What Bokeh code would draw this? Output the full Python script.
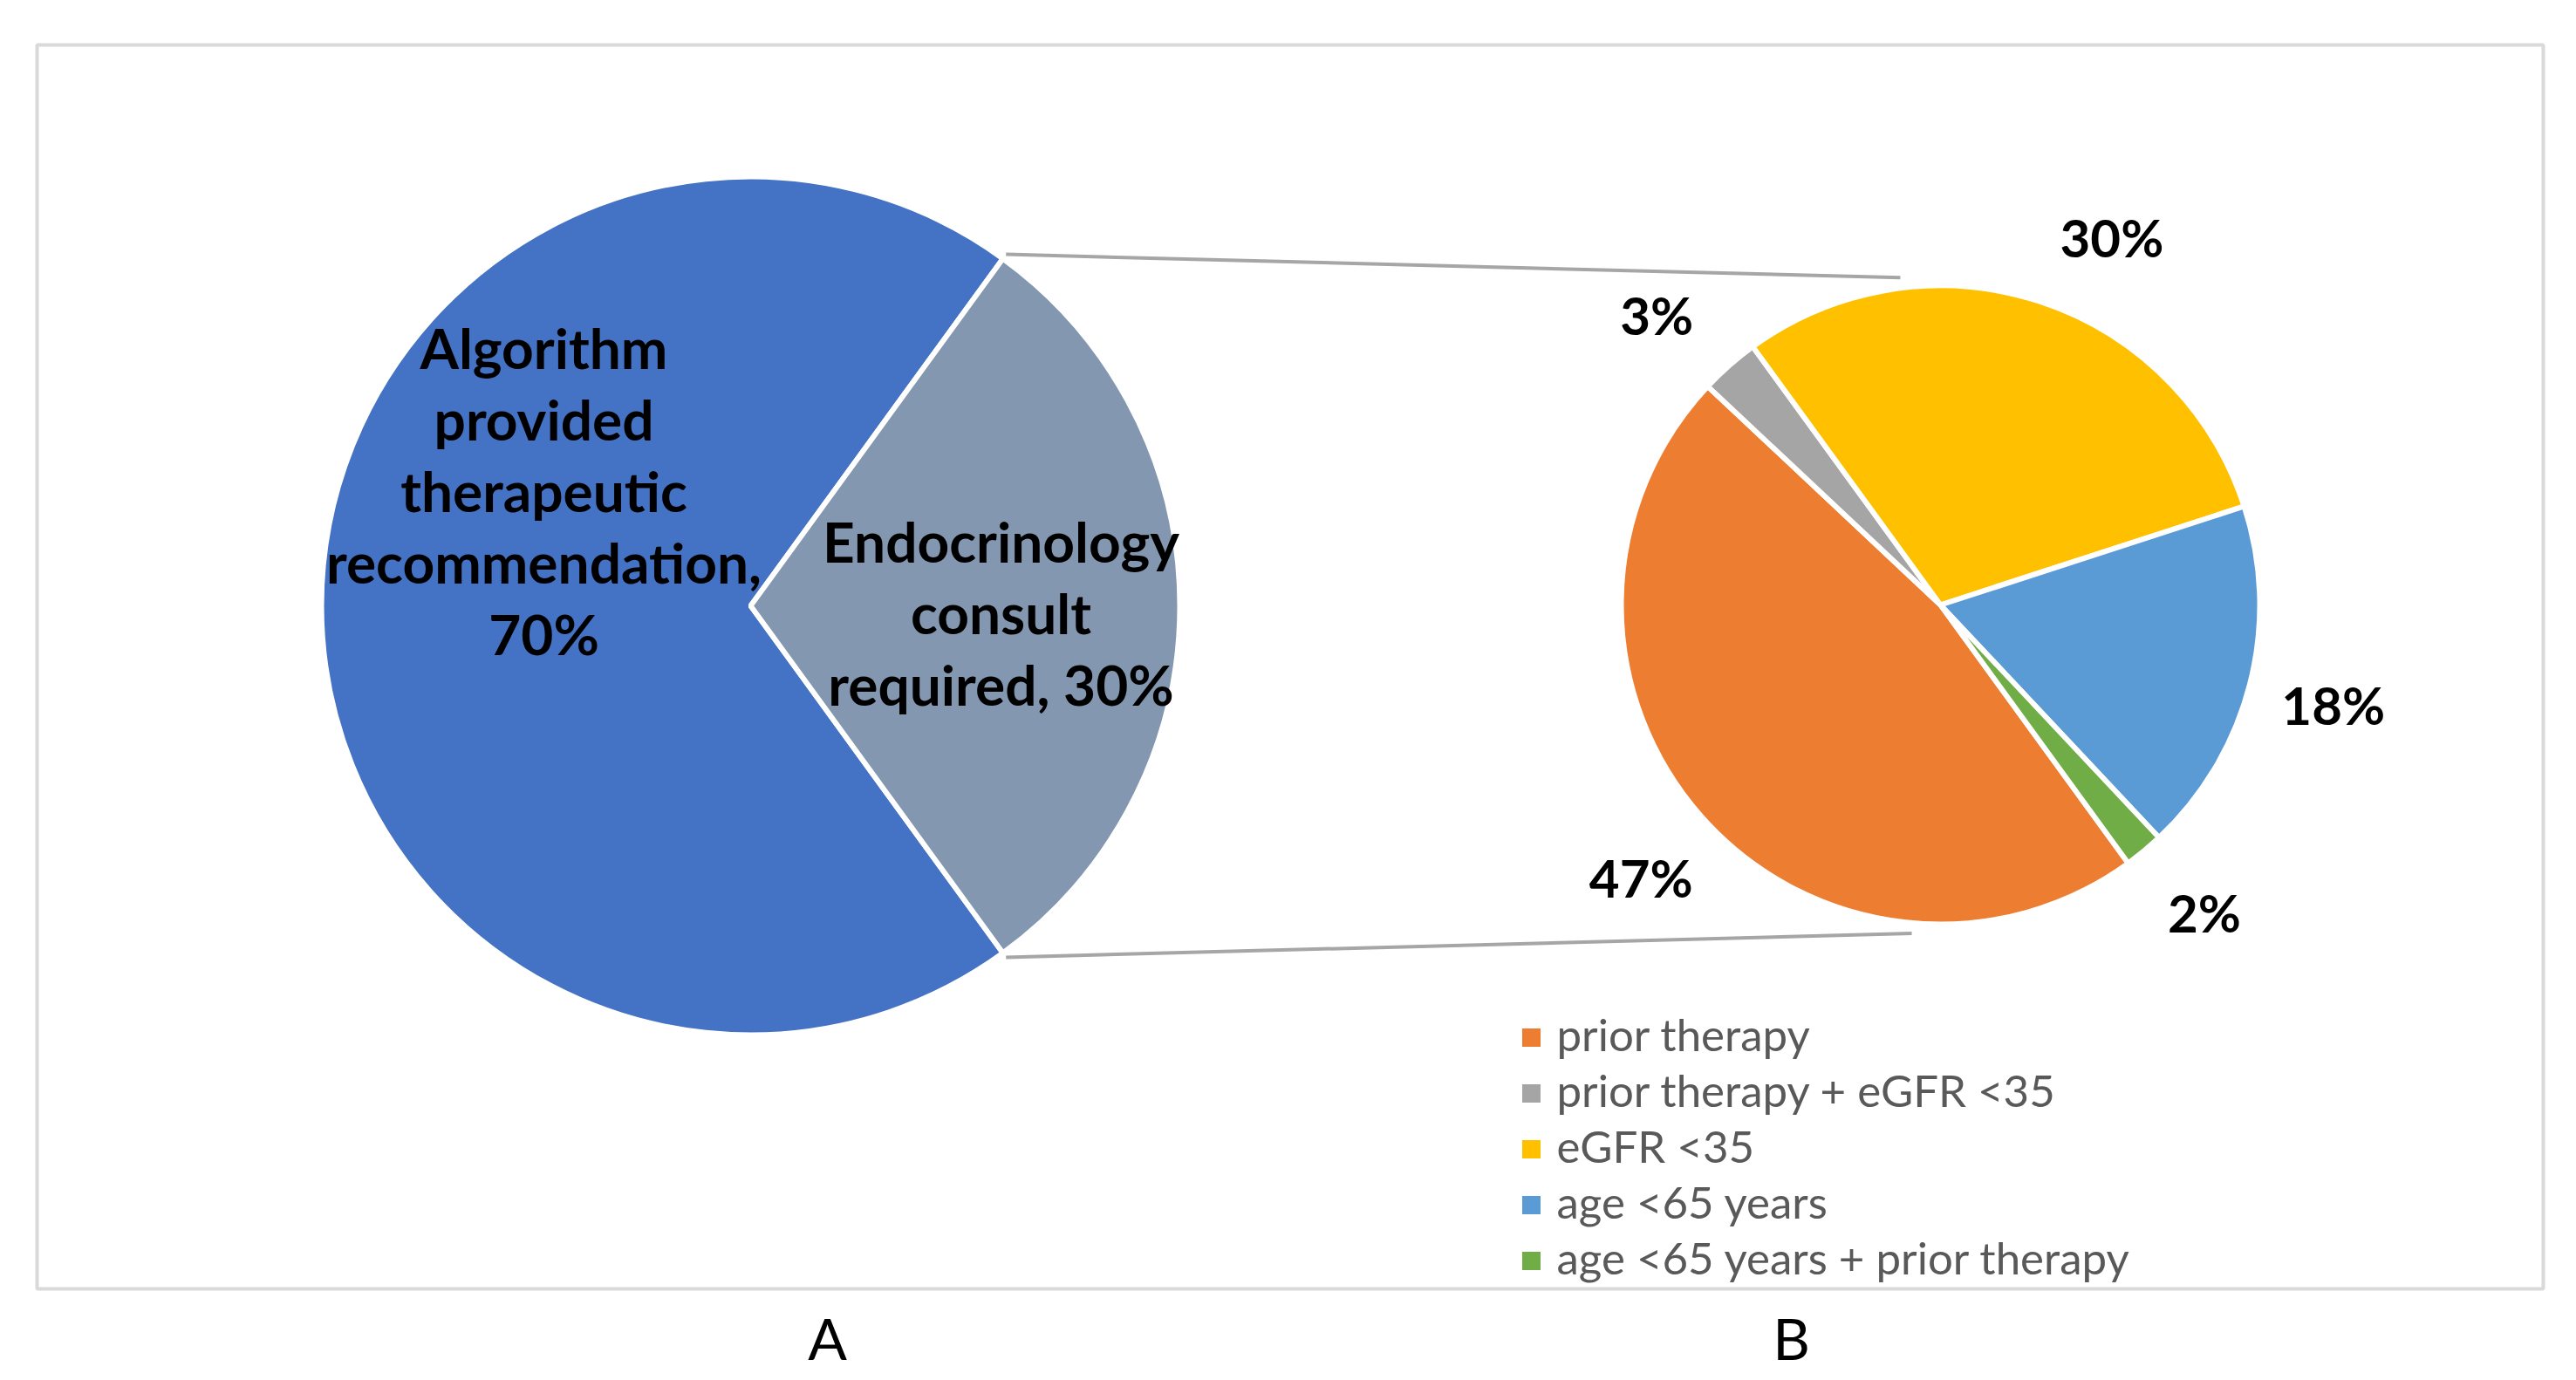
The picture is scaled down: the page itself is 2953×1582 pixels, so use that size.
import math
import textwrap
from bokeh.plotting import figure
from bokeh.models import Range1d
from bokeh.core.properties import value
from bokeh.embed import file_html
from bokeh.resources import INLINE

# ---------------- data ----------------
names_A = ["Algorithm provided therapeutic recommendation", "Endocrinology consult required"]
values_A = [70, 30]
colors_A = ["#4472C4", "#8497B0"]

names_B = ["prior therapy", "prior therapy + eGFR <35", "eGFR <35", "age <65 years",
           "age <65 years + prior therapy"]
values_B = [47, 3, 30, 18, 2]
colors_B = ["#ED7D31", "#A5A5A5", "#FFC000", "#5B9BD5", "#70AD47"]

panel_labels = ["A", "B"]

# ---------------- layout (reference pixel space) ----------------
W, H = 2953, 1582
def X(x): return x
def Y(y): return H - y
BASE = 0.36  # empirical baseline correction (em)

cA = (860, 694); rA = 492
cB = (2224, 693); rB = 366
FONT = value("Lato")

p = figure(width=W, height=H, x_range=Range1d(0, W), y_range=Range1d(0, H),
           x_axis_type=None, y_axis_type=None, toolbar_location=None,
           output_backend="svg", min_border=0)
p.grid.visible = False
p.outline_line_color = None
p.background_fill_color = "white"
p.border_fill_color = "white"

# frame
p.quad(left=[X(42)], right=[X(2915)], top=[Y(51)], bottom=[Y(1477)],
       fill_color=None, line_color="#D9D9D9", line_width=4)

def wedges(vals):
    total = sum(vals)
    split_share = values_A[1] / sum(values_A)
    s0 = -split_share * 360 / 2
    starts, ends, mids = [], [], []
    cum = 0
    for v in vals:
        starts.append(math.radians(s0 - cum / total * 360))
        mids.append(s0 - (cum + v / 2) / total * 360)
        cum += v
        ends.append(math.radians(s0 - cum / total * 360))
    return starts, ends, mids

# pie A
sA, eA, mA = wedges(values_A)
p.wedge(x=[X(cA[0])] * 2, y=[Y(cA[1])] * 2, radius=rA, start_angle=sA, end_angle=eA,
        direction="clock", fill_color=colors_A, line_color="white", line_width=6)

# pie B
sB, eB, mB = wedges(values_B)
n = len(values_B)
p.wedge(x=[X(cB[0])] * n, y=[Y(cB[1])] * n, radius=rB, start_angle=sB, end_angle=eB,
        direction="clock", fill_color=colors_B, line_color="white", line_width=6)

# connector lines
half = values_A[1] / sum(values_A) * 360 / 2
a_angles = [half, -half]
b_angles = [97, -95]
x0 = [X(cA[0]) + (rA + 6) * math.cos(math.radians(a)) for a in a_angles]
y0 = [Y(cA[1]) + (rA + 6) * math.sin(math.radians(a)) for a in a_angles]
x1 = [X(cB[0]) + (rB + 12) * math.cos(math.radians(a)) for a in b_angles]
y1 = [Y(cB[1]) + (rB + 12) * math.sin(math.radians(a)) for a in b_angles]
p.segment(x0=x0, y0=y0, x1=x1, y1=y1, line_color="#A6A6A6", line_width=4)

# pie A labels
fsA = 64
label_pos_A = [(623, 421), (1147, 643)]
lx, ly, lt = [], [], []
for name, v, (px, py) in zip(names_A, values_A, label_pos_A):
    lines = textwrap.wrap(f"{name}, {v}%", 15)
    for i, ln in enumerate(lines):
        lx.append(X(px)); ly.append(Y(py + 82 * i) + BASE * fsA); lt.append(ln)
p.text(x=lx, y=ly, text=lt, text_font=FONT, text_font_style="bold",
       text_font_size=f"{fsA}px", text_align="center", text_baseline="alphabetic",
       text_color="black")

# pie B percentage labels
fsB = 60
nudge = [1, 3, -7, 0, 1]
bx, by, bt = [], [], []
for v, m, d in zip(values_B, mB, nudge):
    a = math.radians(m + d)
    bx.append(X(cB[0]) + rB * 1.27 * math.cos(a))
    by.append(Y(cB[1]) + rB * 1.27 * math.sin(a) - 21 + BASE * fsB)
    bt.append(f"{v}%")
p.text(x=bx, y=by, text=bt, text_font=FONT, text_font_style="bold",
       text_font_size=f"{fsB}px", text_align="center", text_baseline="alphabetic",
       text_color="black")

# legend
fsL = 51
sq_y = [1189 + 64 * i for i in range(n)]
p.rect(x=[X(1755)] * n, y=[Y(v) for v in sq_y], width=21, height=21,
       fill_color=colors_B, line_color=None)
p.text(x=[X(1784)] * n, y=[Y(v + 14) + BASE * fsL for v in sq_y], text=names_B,
       text_font=FONT, text_font_size=f"{fsL}px", text_align="left",
       text_baseline="alphabetic", text_color="#595959")

# panel letters
fsP = 66
p.text(x=[X(948), X(2053)], y=[Y(1557) + BASE * fsP] * 2, text=panel_labels, text_font=FONT,
       text_font_size=f"{fsP}px", text_align="center", text_baseline="alphabetic",
       text_color="black")

open("out.html", "w").write(file_html(p, INLINE))
